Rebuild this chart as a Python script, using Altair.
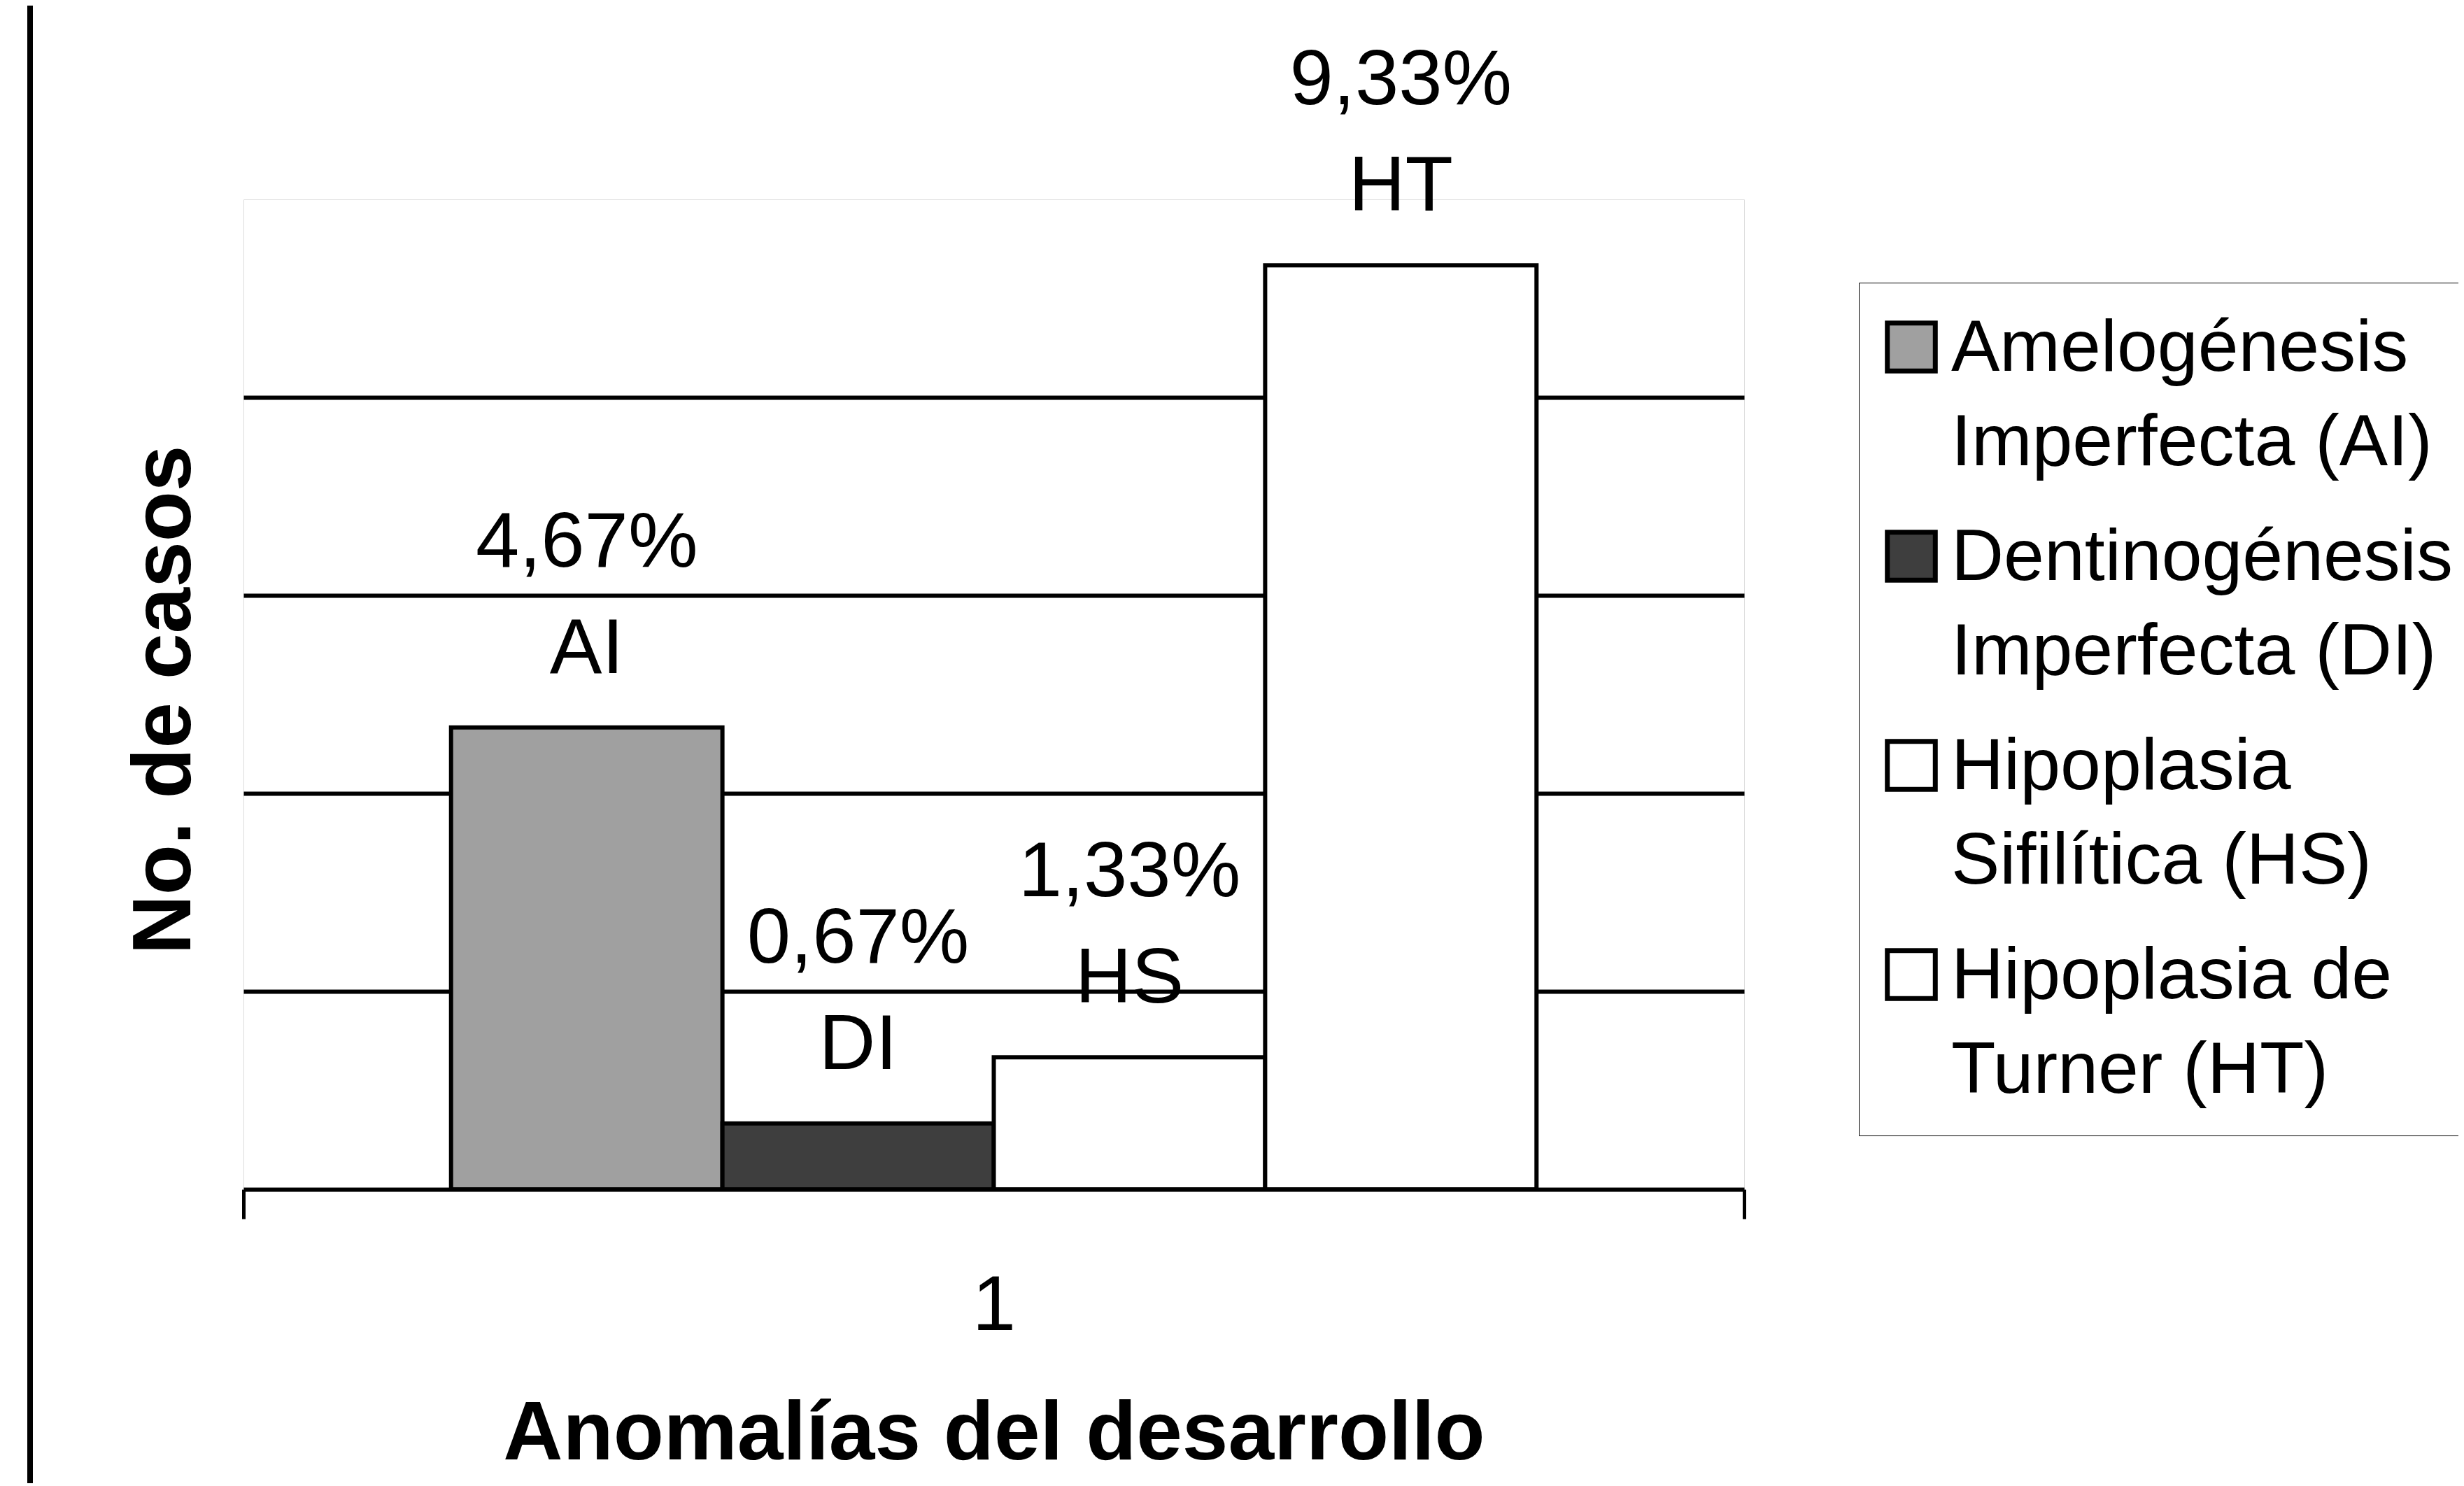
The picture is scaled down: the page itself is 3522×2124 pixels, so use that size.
import altair as alt
import pandas as pd

# ---- data ----
series = ["Amelogénesis\nImperfecta (AI)", "Dentinogénesis\nImperfecta (DI)",
          "Hipoplasia\nSifilítica (HS)", "Hipoplasia de\nTurner (HT)"]
abbrev = ["AI", "DI", "HS", "HT"]
casos = [7, 1, 2, 14]
porcentaje = ["4,67%", "0,67%", "1,33%", "9,33%"]
grupo = ["1", "1", "1", "1"]
fills = ["#a0a0a0", "#3e3e3e", "#ffffff", "#ffffff"]

df = pd.DataFrame({"serie": series, "abbr": abbrev, "casos": casos,
                   "pct": porcentaje, "grupo": grupo})

FONT = "Liberation Sans"
W, H = 2145, 1415

x_enc = alt.X("grupo:N", title="Anomalías del desarrollo",
              scale=alt.Scale(paddingInner=0, paddingOuter=0),
              axis=alt.Axis(labelAngle=0, tickBand="extent", tickSize=42, tickWidth=5,
                            tickColor="black", domainColor="black", domainWidth=6,
                            labelFontSize=112, labelFont=FONT, labelColor="black",
                            labelPadding=118, titleFont=FONT, titleFontSize=118,
                            titleFontWeight="bold", titleColor="black",
                            titleY=292, titleBaseline="top", grid=False))
xoff = alt.XOffset("serie:N", sort=series,
                   scale=alt.Scale(paddingInner=0, paddingOuter=0.765))
y_enc = alt.Y("casos:Q", title="No. de casos",
              scale=alt.Scale(domain=[0, 15], nice=False),
              axis=alt.Axis(values=[3, 6, 9, 12], labels=False, ticks=False, domain=False,
                            grid=True, gridColor="black", gridWidth=6,
                            titleFont=FONT, titleFontSize=118, titleFontWeight="bold",
                            titleColor="black", titleX=-112, titleY=715,
                            titleBaseline="middle", titleAngle=270))

color = alt.Color("serie:N", sort=series,
                  scale=alt.Scale(domain=series, range=fills),
                  legend=alt.Legend(title=None, orient="none", legendX=2309, legendY=119,
                                    labelExpr="split(datum.label, '\\n')",
                                    labelFont=FONT, labelFontSize=104, labelColor="black",
                                    labelLimit=2000, labelOffset=5, labelBaseline="top",
                                    symbolType="square", symbolSize=4700, symbolOffset=-17,
                                    symbolStrokeColor="black", symbolStrokeWidth=7,
                                    rowPadding=57, padding=40,
                                    strokeColor="black", fillColor="white"))

bars = alt.Chart(df).mark_bar(stroke="black", strokeWidth=6, opacity=1).encode(
    x=x_enc, xOffset=xoff, y=y_enc, color=color)

pct_text = alt.Chart(df).mark_text(font=FONT, fontSize=112, color="black",
                                   baseline="alphabetic", dy=-230).encode(
    x="grupo:N", xOffset=xoff, y="casos:Q", text="pct:N")
abbr_text = alt.Chart(df).mark_text(font=FONT, fontSize=112, color="black",
                                    baseline="alphabetic", dy=-78).encode(
    x="grupo:N", xOffset=xoff, y="casos:Q", text="abbr:N")

frame_line = alt.Chart(df).mark_rule(color="black", strokeWidth=8).encode(
    x=alt.value(-305), y=alt.value(-277), y2=alt.value(H + 440))

chart = alt.layer(bars, pct_text, abbr_text, frame_line).properties(
    width=W, height=H,
    autosize=alt.AutoSizeParams(type="none"),
    padding={"left": 340, "top": 277, "right": 1021, "bottom": 420},
).configure_view(
    stroke="black", strokeWidth=3, strokeDash=[8, 18]
).configure(
    background="white",
    style={"guide-label": {"lineHeight": 135, "dy": -48}},
)

chart.save("out.html", embed_options={"renderer": "svg", "actions": False})
